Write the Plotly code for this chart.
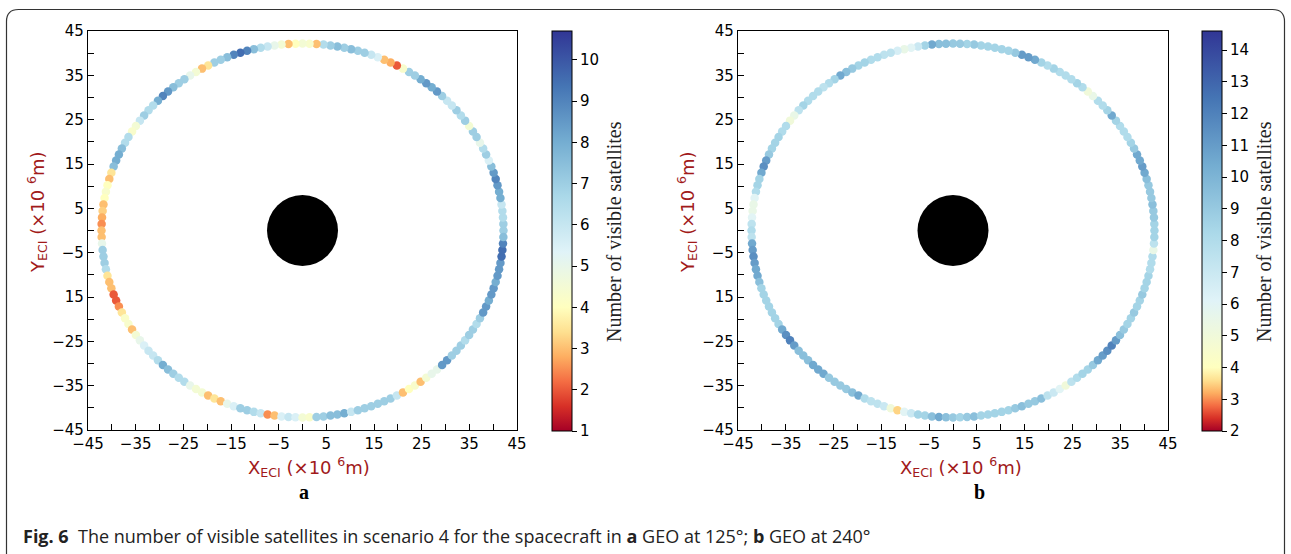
import numpy as np
import plotly.graph_objects as go

# ---- data -------------------------------------------------------------
# orbit sample angles (deg, counter-clockwise from +X), GEO radius in 1e6 m
ANGLES_DEG = list(range(0, 360, 2))
GEO_RADIUS = 42.164

# number of visible satellites at each sample, spacecraft in GEO at 125 deg
VISIBLE_125 = [
    7, 7, 6.5, 6.5, 6, 8, 8, 8.5, 9, 8.5,
    7.5, 5.5, 7, 6.5, 5, 7, 7, 4.5, 7, 6.5,
    7, 6, 6, 7, 8.5, 8, 8.5, 8, 7, 7,
    4.3, 2, 2.8, 3, 5.5, 6, 7, 7, 7.5, 7,
    7.5, 7, 6.5, 3, 4.3, 4.5, 4, 3, 4.5, 5,
    6, 6.5, 7.5, 9, 9.5, 9, 7.5, 7, 7, 3.5,
    3, 4.5, 5, 7, 7, 7.5, 8.5, 9, 8, 6.5,
    6.5, 7, 6, 4.5, 4.3, 6.5, 6.5, 7.5, 8, 8,
    7.5, 3.5, 3, 4, 4.3, 4, 3, 3.2, 2.8, 2.5,
    3, 3, 5, 7, 7, 7, 6.5, 3.5, 3, 3,
    2, 2, 2.5, 3.5, 4.2, 4.3, 3, 4.5, 5, 5.5,
    6, 6, 6.5, 8, 7.5, 7, 6.5, 6.5, 5, 4.5,
    4.5, 3, 3.5, 3, 5, 5.5, 7, 7, 6.5, 6,
    2.5, 3, 5.5, 6, 5.5, 4.5, 4.3, 7, 7, 7.5,
    7.5, 8, 6, 7, 7, 7, 7, 7, 7, 6,
    3, 4, 4.3, 3, 4.5, 5, 5, 8.5, 8.5, 7,
    7, 7, 6.5, 7, 7, 6.5, 7, 8.5, 8.5, 8,
    8.5, 8.5, 8, 8.5, 8.5, 8.5, 9.5, 9.5, 9, 7.5,
]

# number of visible satellites at each sample, spacecraft in GEO at 240 deg
VISIBLE_240 = [
    8.5, 8.5, 9, 9, 9.5, 9, 9, 9, 9.5, 10.5,
    11, 10.5, 10.5, 9, 8.5, 8, 8, 8, 8.5, 10.5,
    8.5, 8, 8, 5.5, 5, 8, 8.5, 8, 8, 8,
    8.5, 8, 8.5, 10.5, 11, 11, 9, 8.5, 8.5, 8.5,
    8.5, 8.5, 9, 8.5, 9, 9, 9.5, 9.5, 10.5, 8.5,
    7, 6, 5.5, 6.5, 7.5, 7.5, 8, 8, 8.5, 8.5,
    9, 9.5, 10.5, 8.5, 8, 7.5, 8, 8, 8, 8.5,
    7.5, 5.5, 5, 8, 8, 8.5, 8.5, 8.5, 9, 11,
    11.5, 10.5, 8.5, 8.5, 8, 6, 5.5, 5.5, 6, 7.5,
    8, 7.5, 10.5, 11, 11.5, 11, 10.5, 10.5, 9.5, 8.5,
    8.5, 8.5, 8.5, 8.5, 8.5, 8.5, 10.5, 11.5, 12, 11,
    9.5, 9.5, 9.5, 10.5, 10.5, 10.5, 9, 9, 9, 9,
    9.5, 10.5, 8, 7.5, 7.5, 7, 5, 3.5, 6, 7,
    8.5, 8.5, 9.5, 10.5, 9.5, 9, 8.5, 9, 9.5, 8.5,
    8.5, 8.5, 8.5, 8.5, 9, 9.5, 9, 9, 9.5, 7.5,
    7, 6, 5, 7.5, 8, 8.5, 8.5, 9, 10.5, 11,
    11.5, 12, 11, 9.5, 9, 8.5, 8.5, 9, 8.5, 8.5,
    9, 8.5, 8.5, 8.5, 8, 8, 8, 5.5, 7.5, 8.5,
]

AXIS_TICKS = [-45, -35, -25, -15, -5, 5, 15, 25, 35, 45]
X_TICK_TEXT = ["\u221245", "\u221235", "\u221225", "\u221215", "\u22125",
               "5", "15", "25", "35", "45"]
Y_TICK_TEXT = ["\u221245", "\u221235", "\u221225", "15", "\u22125",
               "5", "15", "25", "35", "45"]
MINOR_TICKS = [-40, -30, -20, -10, 0, 10, 20, 30, 40]

CBAR_125 = dict(vmin=1.0, vmax=10.7, ticks=list(range(1, 11)))
CBAR_240 = dict(vmin=2.0, vmax=14.6, ticks=list(range(2, 15)))

# ---- styling helpers --------------------------------------------------
W, H = 1291, 554
RDYLBU = ["#a50026", "#d73027", "#f46d43", "#fdae61", "#fee090", "#ffffbf",
          "#e0f3f8", "#abd9e9", "#74add1", "#4575b4", "#313695"]
AXIS_RED = "#a11a1a"
TICK_FONT = dict(family="DejaVu Sans", size=15, color="black")


def px_x(p):
    return p / W


def px_y(p):
    return 1 - p / H


def centred_scale(vmin, vmax, vcenter=4.0):
    """RdYlBu with its yellow midpoint pinned to vcenter."""
    pc = (vcenter - vmin) / (vmax - vmin)
    out = []
    for i, c in enumerate(RDYLBU):
        f = i / 10
        p = f / 0.5 * pc if f <= 0.5 else pc + (f - 0.5) / 0.5 * (1 - pc)
        out.append([round(p, 6), c])
    return out


theta = np.deg2rad(ANGLES_DEG)
ring_x = GEO_RADIUS * np.cos(theta)
ring_y = GEO_RADIUS * np.sin(theta)

fig = go.Figure()

panels = [
    ("x", "y", "coloraxis", VISIBLE_125),
    ("x2", "y2", "coloraxis2", VISIBLE_240),
]
for xa, ya, cax, vals in panels:
    fig.add_trace(go.Scatter(
        x=ring_x, y=ring_y, xaxis=xa, yaxis=ya, mode="markers",
        marker=dict(size=8.5, color=vals, coloraxis=cax, line=dict(width=0)),
        showlegend=False, hoverinfo="skip"))
    # Earth at the origin
    fig.add_trace(go.Scatter(
        x=[0], y=[0], xaxis=xa, yaxis=ya, mode="markers",
        marker=dict(size=71, color="black", line=dict(width=0)),
        showlegend=False, hoverinfo="skip"))

axis_common = dict(
    range=[-45, 45], showgrid=False, zeroline=False, automargin=False,
    showline=True, linecolor="black", linewidth=1.3, mirror=True,
    ticks="inside", ticklen=6, tickwidth=1, tickcolor="black",
    tickvals=AXIS_TICKS, tickfont=TICK_FONT,
    minor=dict(tickvals=MINOR_TICKS, ticks="inside", ticklen=6,
               tickwidth=1, tickcolor="black"),
)

ydom = [px_y(430), px_y(31)]
fig.update_layout(
    width=W, height=H, autosize=False, margin=dict(l=0, r=0, t=0, b=0, pad=0),
    paper_bgcolor="white", plot_bgcolor="white",
    xaxis=dict(domain=[px_x(88), px_x(517)], anchor="y",
               ticktext=X_TICK_TEXT, **axis_common),
    yaxis=dict(domain=ydom, anchor="x", ticktext=Y_TICK_TEXT, **axis_common),
    xaxis2=dict(domain=[px_x(738), px_x(1168)], anchor="y2",
                ticktext=X_TICK_TEXT, **axis_common),
    yaxis2=dict(domain=ydom, anchor="x2", ticktext=Y_TICK_TEXT, **axis_common),
)

for key, cb, left in (("coloraxis", CBAR_125, 552), ("coloraxis2", CBAR_240, 1202)):
    fig.update_layout(**{key: dict(
        cmin=cb["vmin"], cmax=cb["vmax"],
        colorscale=centred_scale(cb["vmin"], cb["vmax"]),
        colorbar=dict(
            x=px_x(left), xanchor="left", xref="paper", xpad=0, ypad=0,
            y=px_y(231), yanchor="middle", len=400 / H, lenmode="fraction",
            thickness=20, outlinewidth=1, outlinecolor="black",
            tickvals=cb["ticks"], ticks="outside", ticklen=5,
            tickcolor="black", tickfont=TICK_FONT,
        ))})


def note(x, y, text, font, angle=0, xanchor="center"):
    return dict(x=px_x(x), y=px_y(y), xref="paper", yref="paper",
                showarrow=False, text=text, font=font, textangle=angle,
                xanchor=xanchor, yanchor="middle")


AXIS_TITLE_FONT = dict(family="DejaVu Sans", size=18, color=AXIS_RED)
annotations = []
for cx, yx in ((309, 37), (961, 687)):
    annotations.append(note(cx, 467, "X<sub>ECI</sub> (×10 <sup>6</sup>m)",
                            AXIS_TITLE_FONT))
    annotations.append(note(yx, 212, "Y<sub>ECI</sub> (×10 <sup>6</sup>m)",
                            AXIS_TITLE_FONT, angle=-90))

for tx in (614, 1264):
    annotations.append(note(tx, 232, "Number of visible satellites",
                            dict(family="Liberation Serif", size=20, color="#222"),
                            angle=-90))

for lx, lab in ((304, "a"), (979, "b")):
    annotations.append(note(lx, 492, f"<b>{lab}</b>",
                            dict(family="Liberation Serif", size=20, color="black")))

annotations.append(note(
    21, 536,
    "<b>Fig. 6</b>  The number of visible satellites in scenario 4 for the "
    "spacecraft in <b>a</b> GEO at 125°; <b>b</b> GEO at 240°",
    dict(family="Open Sans", size=18, color="#222"), xanchor="left"))

fig.update_layout(annotations=annotations)

# rounded frame around the figure
l, r, t, b, rad = 6.5, 1284.5, 9.5, 556, 12


def P(x, y):
    return f"{px_x(x):.6f},{px_y(y):.6f}"


frame = (f"M {P(l, b)} L {P(l, t + rad)} Q {P(l, t)} {P(l + rad, t)} "
         f"L {P(r - rad, t)} Q {P(r, t)} {P(r, t + rad)} L {P(r, b)}")
fig.add_shape(type="path", path=frame, xref="paper", yref="paper",
              line=dict(color="#333", width=1.2))

fig.write_html(
    "out.html",
    post_script="document.body.style.margin='0';document.body.style.overflow='hidden';",
)
